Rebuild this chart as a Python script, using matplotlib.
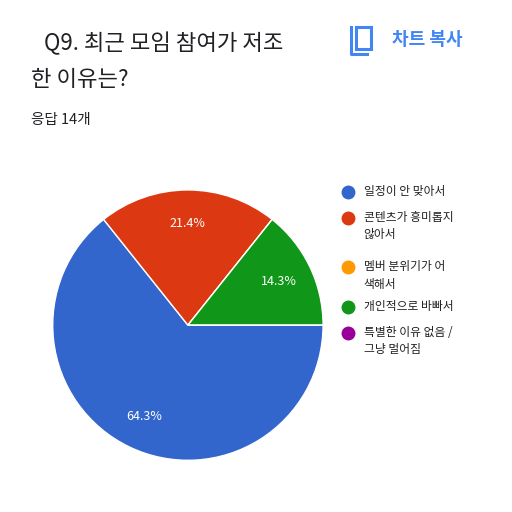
import matplotlib
matplotlib.use("Agg")
import matplotlib.pyplot as plt
from matplotlib.patches import Rectangle

plt.rcParams['font.family'] = ['Noto Sans CJK KR', 'DejaVu Sans']

labels = ["일정이 안 맞아서", "콘텐츠가 흥미롭지\n않아서", "멤버 분위기가 어\n색해서", "개인적으로 바빠서", "특별한 이유 없음 /\n그냥 멀어짐"]
counts = [9, 3, 0, 2, 0]
colors = ["#3366cc", "#dc3912", "#ff9900", "#109618", "#990099"]

fig = plt.figure(figsize=(5.12, 5.12), dpi=100)
fig.patch.set_facecolor("white")

ax = fig.add_axes([0.037, 0.035, 0.66, 0.66])
wedges, texts, autotexts = ax.pie(
    counts, colors=colors, startangle=0, counterclock=False,
    autopct=lambda p: f"{p:.1f}%" if p > 0 else "", pctdistance=0.75,
    wedgeprops=dict(edgecolor="white", linewidth=1),
    textprops=dict(color="white", fontsize=9))
ax.set_aspect("equal")

fig.text(0.085, 0.915, "Q9. 최근 모임 참여가 저조", fontsize=16, color="#202124", va="center")
fig.text(0.06, 0.845, "한 이유는?", fontsize=16, color="#202124", va="center")
fig.text(0.06, 0.765, "응답 14개", fontsize=10.5, color="#202124", va="center")

fig.patches.append(Rectangle((0.695, 0.905), 0.030, 0.042, fill=False, edgecolor="#4285f4", linewidth=2.2, transform=fig.transFigure))
fig.add_artist(plt.Line2D([0.685, 0.685, 0.716], [0.947, 0.895, 0.895], color="#4285f4", linewidth=2.2, transform=fig.transFigure))
fig.text(0.765, 0.922, "차트 복사", fontsize=13, color="#4285f4", fontweight="bold", va="center")

ys = [0.625, 0.574, 0.478, 0.400, 0.350]
for lab, c, y in zip(labels, colors, ys):
    fig.add_artist(plt.Line2D([0.68], [y], marker="o", markersize=9, color=c, linestyle="none", transform=fig.transFigure))
    fig.text(0.71, y + 0.014, lab, fontsize=8.5, color="#202124", va="top", linespacing=1.45)

fig.savefig("out.png", dpi=100)
